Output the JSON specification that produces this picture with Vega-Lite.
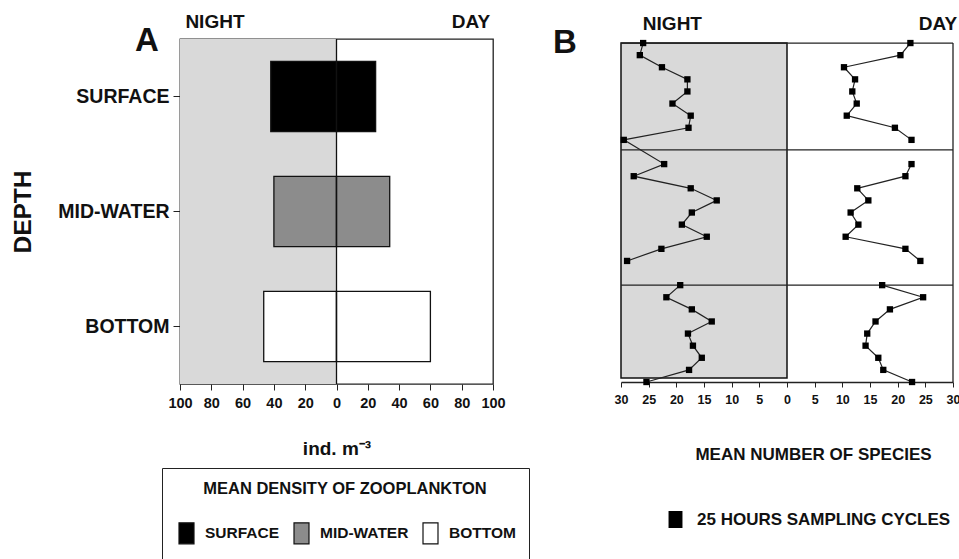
{
  "$schema": "https://vega.github.io/schema/vega-lite/v6.json",
  "background": "white",
  "padding": {"left": 10, "top": 11, "right": 0, "bottom": 0},
  "spacing": 22,
  "config": {
    "view": {"stroke": "#222222", "strokeWidth": 1.3},
    "axis": {"labelFont": "Liberation Sans, Arial, sans-serif", "labelFontWeight": "bold", "labelColor": "#111111", "titleFont": "Liberation Sans, Arial, sans-serif", "titleFontWeight": "bold", "titleColor": "#111111", "tickColor": "#222222", "domainColor": "#222222", "grid": false, "labelOverlap": false, "labelFlush": false},
    "legend": {"labelFont": "Liberation Sans, Arial, sans-serif", "labelFontWeight": "bold", "labelColor": "#111111", "titleFont": "Liberation Sans, Arial, sans-serif", "titleFontWeight": "bold", "titleColor": "#111111", "labelLimit": 400, "titleLimit": 400},
    "title": {"font": "Liberation Sans, Arial, sans-serif", "fontWeight": "bold", "color": "#111111"}
  },
  "datasets": {
    "density": [
      {"depth": "SURFACE", "night": 42, "day": 25},
      {"depth": "MID-WATER", "night": 40, "day": 34},
      {"depth": "BOTTOM", "night": 46.5, "day": 60}
    ],
    "species": [
      {"period": "NIGHT", "cycle": 1, "trace": "N12", "hour": 0, "species": 26.0},
      {"period": "NIGHT", "cycle": 1, "trace": "N12", "hour": 3, "species": 26.6},
      {"period": "NIGHT", "cycle": 1, "trace": "N12", "hour": 6, "species": 22.6},
      {"period": "NIGHT", "cycle": 1, "trace": "N12", "hour": 9, "species": 18.0},
      {"period": "NIGHT", "cycle": 1, "trace": "N12", "hour": 12, "species": 18.0},
      {"period": "NIGHT", "cycle": 1, "trace": "N12", "hour": 15, "species": 20.7},
      {"period": "NIGHT", "cycle": 1, "trace": "N12", "hour": 18, "species": 17.4},
      {"period": "NIGHT", "cycle": 1, "trace": "N12", "hour": 21, "species": 17.8},
      {"period": "NIGHT", "cycle": 1, "trace": "N12", "hour": 24, "species": 29.5},
      {"period": "NIGHT", "cycle": 2, "trace": "N12", "hour": 30, "species": 22.2},
      {"period": "NIGHT", "cycle": 2, "trace": "N12", "hour": 33, "species": 27.7},
      {"period": "NIGHT", "cycle": 2, "trace": "N12", "hour": 36, "species": 17.4},
      {"period": "NIGHT", "cycle": 2, "trace": "N12", "hour": 39, "species": 12.7},
      {"period": "NIGHT", "cycle": 2, "trace": "N12", "hour": 42, "species": 17.2},
      {"period": "NIGHT", "cycle": 2, "trace": "N12", "hour": 45, "species": 19.0},
      {"period": "NIGHT", "cycle": 2, "trace": "N12", "hour": 48, "species": 14.5},
      {"period": "NIGHT", "cycle": 2, "trace": "N12", "hour": 51, "species": 22.7},
      {"period": "NIGHT", "cycle": 2, "trace": "N12", "hour": 54, "species": 28.9},
      {"period": "NIGHT", "cycle": 3, "trace": "N3", "hour": 60, "species": 19.3},
      {"period": "NIGHT", "cycle": 3, "trace": "N3", "hour": 63, "species": 21.8},
      {"period": "NIGHT", "cycle": 3, "trace": "N3", "hour": 66, "species": 17.2},
      {"period": "NIGHT", "cycle": 3, "trace": "N3", "hour": 69, "species": 13.6},
      {"period": "NIGHT", "cycle": 3, "trace": "N3", "hour": 72, "species": 17.9},
      {"period": "NIGHT", "cycle": 3, "trace": "N3", "hour": 75, "species": 17.0},
      {"period": "NIGHT", "cycle": 3, "trace": "N3", "hour": 78, "species": 15.4},
      {"period": "NIGHT", "cycle": 3, "trace": "N3", "hour": 81, "species": 17.7},
      {"period": "NIGHT", "cycle": 3, "trace": "N3", "hour": 84, "species": 25.4},
      {"period": "DAY", "cycle": 1, "trace": "D1", "hour": 0, "species": 22.3},
      {"period": "DAY", "cycle": 1, "trace": "D1", "hour": 3, "species": 20.5},
      {"period": "DAY", "cycle": 1, "trace": "D1", "hour": 6, "species": 10.3},
      {"period": "DAY", "cycle": 1, "trace": "D1", "hour": 9, "species": 12.3},
      {"period": "DAY", "cycle": 1, "trace": "D1", "hour": 12, "species": 11.8},
      {"period": "DAY", "cycle": 1, "trace": "D1", "hour": 15, "species": 12.6},
      {"period": "DAY", "cycle": 1, "trace": "D1", "hour": 18, "species": 10.8},
      {"period": "DAY", "cycle": 1, "trace": "D1", "hour": 21, "species": 19.5},
      {"period": "DAY", "cycle": 1, "trace": "D1", "hour": 24, "species": 22.5},
      {"period": "DAY", "cycle": 2, "trace": "D2", "hour": 30, "species": 22.5},
      {"period": "DAY", "cycle": 2, "trace": "D2", "hour": 33, "species": 21.4},
      {"period": "DAY", "cycle": 2, "trace": "D2", "hour": 36, "species": 12.7},
      {"period": "DAY", "cycle": 2, "trace": "D2", "hour": 39, "species": 14.7},
      {"period": "DAY", "cycle": 2, "trace": "D2", "hour": 42, "species": 11.5},
      {"period": "DAY", "cycle": 2, "trace": "D2", "hour": 45, "species": 12.9},
      {"period": "DAY", "cycle": 2, "trace": "D2", "hour": 48, "species": 10.6},
      {"period": "DAY", "cycle": 2, "trace": "D2", "hour": 51, "species": 21.4},
      {"period": "DAY", "cycle": 2, "trace": "D2", "hour": 54, "species": 24.1},
      {"period": "DAY", "cycle": 3, "trace": "D3", "hour": 60, "species": 17.2},
      {"period": "DAY", "cycle": 3, "trace": "D3", "hour": 63, "species": 24.6},
      {"period": "DAY", "cycle": 3, "trace": "D3", "hour": 66, "species": 18.6},
      {"period": "DAY", "cycle": 3, "trace": "D3", "hour": 69, "species": 16.0},
      {"period": "DAY", "cycle": 3, "trace": "D3", "hour": 72, "species": 14.5},
      {"period": "DAY", "cycle": 3, "trace": "D3", "hour": 75, "species": 14.2},
      {"period": "DAY", "cycle": 3, "trace": "D3", "hour": 78, "species": 16.5},
      {"period": "DAY", "cycle": 3, "trace": "D3", "hour": 81, "species": 17.4},
      {"period": "DAY", "cycle": 3, "trace": "D3", "hour": 84, "species": 22.6}
    ]
  },
  "resolve": {"scale": {"x": "independent", "y": "independent", "color": "independent"}, "legend": {"color": "independent"}},
  "hconcat": [
    {
      "width": 313,
      "height": 345,
      "title": {"text": "A", "anchor": "start", "frame": "group", "fontSize": 33, "dx": -45, "dy": 50},
      "data": {"name": "density"},
      "resolve": {"scale": {"x": "independent"}},
      "layer": [
        {
          "data": {"values": [{"period": "NIGHT"}]},
          "mark": {"type": "rect", "fill": "#d9d9d9"},
          "encoding": {
            "x": {"datum": -100, "type": "quantitative", "scale": {"domain": [-100, 100], "nice": false},
              "axis": {"orient": "bottom", "values": [-100, -80, -60, -40, -20, 0, 20, 40, 60, 80, 100], "labelExpr": "abs(datum.value)", "domain": false, "tickSize": 6, "labelFontSize": 14.5, "labelPadding": 6, "title": "ind. m⁻³", "titleFontSize": 19, "titlePadding": 30}},
            "x2": {"datum": 0}
          }
        },
        {
          "mark": {"type": "bar", "stroke": "#111111", "strokeWidth": 1.3},
          "encoding": {
            "y": {"field": "depth", "type": "nominal", "sort": ["SURFACE", "MID-WATER", "BOTTOM"], "scale": {"paddingInner": 0.39, "paddingOuter": 0.195},
              "axis": {"title": "DEPTH", "titleFontSize": 24.5, "titlePadding": 22, "labelFontSize": 19.5, "tickSize": 7, "labelPadding": 4, "domain": false}},
            "x": {"field": "night", "type": "quantitative", "scale": {"domain": [-100, 100], "reverse": true, "nice": false}, "axis": null},
            "color": {"field": "depth", "type": "nominal", "scale": {"domain": ["SURFACE", "MID-WATER", "BOTTOM"], "range": ["#000000", "#8c8c8c", "#ffffff"]},
              "legend": {"orient": "none", "legendX": -18, "legendY": 429, "direction": "horizontal", "title": "MEAN DENSITY OF ZOOPLANKTON", "titleFontSize": 16.5, "titleAnchor": "middle", "titlePadding": 24, "strokeColor": "#222222", "padding": 13, "symbolType": "M-0.714,-1H0.714V1H-0.714Z", "symbolSize": 441, "symbolStrokeColor": "#111111", "symbolStrokeWidth": 1.2, "labelFontSize": 15.5, "labelOffset": 7, "columnPadding": 10}}
          }
        },
        {
          "mark": {"type": "bar", "stroke": "#111111", "strokeWidth": 1.3},
          "encoding": {
            "y": {"field": "depth", "type": "nominal", "sort": ["SURFACE", "MID-WATER", "BOTTOM"], "scale": {"paddingInner": 0.39, "paddingOuter": 0.195}},
            "x": {"field": "day", "type": "quantitative", "scale": {"domain": [-100, 100], "nice": false},
              "axis": {"orient": "top", "values": [-78, 85.6], "labelExpr": "datum.value < 0 ? 'NIGHT' : 'DAY'", "ticks": false, "domain": false, "labelFontSize": 19, "labelPadding": 8, "title": null}},
            "color": {"field": "depth", "type": "nominal", "scale": {"domain": ["SURFACE", "MID-WATER", "BOTTOM"], "range": ["#000000", "#8c8c8c", "#ffffff"]}}
          }
        },
        {
          "data": {"values": [{"line": "zero"}]},
          "mark": {"type": "rule", "color": "#111111", "strokeWidth": 1.3},
          "encoding": {"x": {"datum": 0, "type": "quantitative", "scale": {"domain": [-100, 100], "nice": false}, "axis": null}}
        }
      ]
    },
    {
      "width": 332,
      "height": 343,
      "view": {"stroke": null},
      "title": {"text": "B", "anchor": "start", "frame": "group", "fontSize": 33, "dx": -68, "dy": 50},
      "data": {"name": "species"},
      "resolve": {"scale": {"x": "independent"}},
      "layer": [
        {
          "data": {"values": [{"period": "NIGHT"}]},
          "mark": {"type": "rect", "fill": "#d9d9d9", "stroke": "#111111", "strokeWidth": 1.5},
          "encoding": {
            "x": {"datum": -30, "type": "quantitative", "scale": {"domain": [-30, 30], "nice": false},
              "axis": {"orient": "bottom", "values": [-30, -25, -20, -15, -10, -5, 0, 5, 10, 15, 20, 25, 30], "labelExpr": "abs(datum.value)", "domain": true, "domainWidth": 1.5, "tickSize": 5, "labelFontSize": 12.5, "labelPadding": 6, "title": "MEAN NUMBER OF SPECIES", "titleFontSize": 17, "titlePadding": 41, "titleX": 192}},
            "x2": {"datum": 0},
            "y": {"datum": 0, "type": "quantitative", "scale": {"domain": [-1, 84], "reverse": true, "nice": false, "zero": false},
              "axis": {"orient": "right", "values": [3, 6, 9, 12, 15, 18, 21, 24, 30, 33, 36, 39, 42, 45, 48, 51, 54, 63, 66, 69, 72, 75, 78, 81], "labels": false, "domain": false, "tickSize": 5, "title": null}},
            "y2": {"datum": 83}
          }
        },
        {
          "data": {"values": [{"boundary": "top", "hour": 0}, {"boundary": "cycle 1-2", "hour": 26.5}, {"boundary": "cycle 2-3", "hour": 60}]},
          "mark": {"type": "rule", "color": "#222222", "strokeWidth": 1.3},
          "encoding": {
            "y": {"field": "hour", "type": "quantitative", "scale": {"domain": [-1, 84], "reverse": true, "nice": false, "zero": false}, "axis": null}
          }
        },
        {
          "data": {"values": [{"edge": "right"}]},
          "mark": {"type": "rule", "color": "#222222", "strokeWidth": 1.3},
          "encoding": {
            "x": {"datum": 30, "type": "quantitative", "scale": {"domain": [-30, 30], "nice": false}, "axis": null},
            "y": {"datum": 0, "type": "quantitative", "scale": {"domain": [-1, 84], "reverse": true, "nice": false, "zero": false}, "axis": null},
            "y2": {"datum": 84}
          }
        },
        {
          "transform": [{"filter": "datum.period === 'NIGHT'"}],
          "mark": {"type": "line", "color": "#222222", "strokeWidth": 1.2},
          "encoding": {
            "x": {"field": "species", "type": "quantitative", "scale": {"domain": [-30, 30], "reverse": true, "nice": false}, "axis": null},
            "y": {"field": "hour", "type": "quantitative", "scale": {"domain": [-1, 84], "reverse": true, "nice": false, "zero": false}, "axis": null},
            "detail": {"field": "trace"},
            "order": {"field": "hour"}
          }
        },
        {
          "transform": [{"filter": "datum.period === 'NIGHT'"}],
          "mark": {"type": "square", "filled": true, "color": "#000000", "size": 40, "opacity": 1},
          "encoding": {
            "x": {"field": "species", "type": "quantitative", "scale": {"domain": [-30, 30], "reverse": true, "nice": false}, "axis": null},
            "y": {"field": "hour", "type": "quantitative", "scale": {"domain": [-1, 84], "reverse": true, "nice": false, "zero": false}, "axis": null}
          }
        },
        {
          "transform": [{"filter": "datum.period === 'DAY'"}],
          "mark": {"type": "line", "color": "#222222", "strokeWidth": 1.2},
          "encoding": {
            "x": {"field": "species", "type": "quantitative", "scale": {"domain": [-30, 30], "nice": false},
              "axis": {"orient": "top", "values": [-20.8, 27.2], "labelExpr": "datum.value < 0 ? 'NIGHT' : 'DAY'", "ticks": false, "domain": false, "labelFontSize": 19, "labelPadding": 6, "title": null}},
            "y": {"field": "hour", "type": "quantitative", "scale": {"domain": [-1, 84], "reverse": true, "nice": false, "zero": false}, "axis": null},
            "detail": {"field": "trace"},
            "order": {"field": "hour"}
          }
        },
        {
          "transform": [{"filter": "datum.period === 'DAY'"}],
          "mark": {"type": "square", "filled": true, "size": 40, "opacity": 1},
          "encoding": {
            "x": {"field": "species", "type": "quantitative", "scale": {"domain": [-30, 30], "nice": false}, "axis": null},
            "y": {"field": "hour", "type": "quantitative", "scale": {"domain": [-1, 84], "reverse": true, "nice": false, "zero": false}, "axis": null},
            "color": {"datum": "25 HOURS SAMPLING CYCLES", "type": "nominal", "scale": {"range": ["#000000"]},
              "legend": {"orient": "none", "legendX": 45, "legendY": 471, "title": null, "padding": 0, "symbolType": "M-0.82,-1H0.82V1H-0.82Z", "symbolSize": 289, "labelFontSize": 17, "labelOffset": 12}}
          }
        }
      ]
    }
  ]
}
